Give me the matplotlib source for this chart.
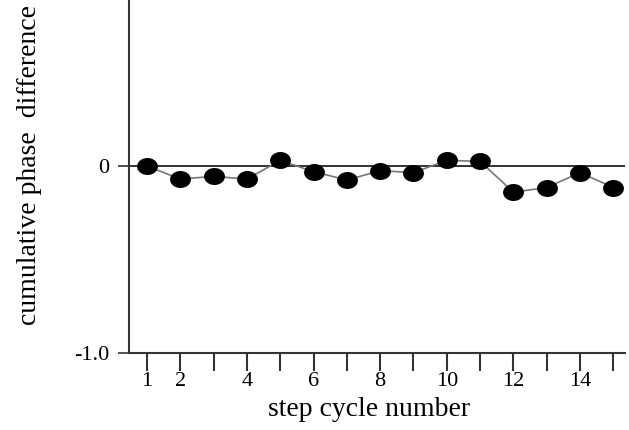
import matplotlib
matplotlib.use("Agg")
import matplotlib.pyplot as plt
from matplotlib.path import Path
import numpy as np

steps = list(range(1, 16))
phase_diff = [0.0, -0.07, -0.055, -0.07, 0.03, -0.03, -0.075, -0.025, -0.035,
              0.03, 0.025, -0.14, -0.115, -0.035, -0.115]
xtick_pos = list(range(1, 16))
xtick_labels = ["1", "2", "", "4", "", "6", "", "8", "", "10", "", "12", "", "14", ""]
ytick_pos = [-1.0, 0.0]
ytick_labels = ["-1.0", "0"]

plt.rcParams['font.family'] = ['Liberation Serif', 'DejaVu Serif']

# elliptical marker (wider than tall)
t = np.linspace(0, 2 * np.pi, 60)
ellipse = Path(np.column_stack([np.cos(t), 0.8 * np.sin(t)]), closed=True)

fig = plt.figure(figsize=(6.29, 4.30), dpi=100)
ax = fig.add_axes([129/629, 1 - 353/430, (625 - 129)/629, 353/430])

ax.axhline(0, color='#222222', lw=1.3, zorder=1)
ax.plot(steps, phase_diff, color='#777777', lw=1.2, zorder=2)
ax.plot(steps, phase_diff, ls='none', marker=ellipse, ms=14, color='black', zorder=3)

ax.set_xlim(0.46, 15.35)
ax.set_ylim(-1.0, 0.888)

ax.set_xticks(xtick_pos)
ax.set_xticklabels(xtick_labels, fontsize=16)
ax.set_yticks(ytick_pos)
ax.set_yticklabels(ytick_labels, fontsize=16)
ax.tick_params(axis='x', direction='out', length=13, width=1.5, color='#333333', pad=1)
ax.tick_params(axis='y', direction='out', length=8, width=1.2, color='#333333', pad=6)

for s in ['top', 'right']:
    ax.spines[s].set_visible(False)
for s in ['left', 'bottom']:
    ax.spines[s].set_linewidth(1.5)
    ax.spines[s].set_color('#333333')

ax.set_xlabel("step cycle number", fontsize=20)
ax.xaxis.set_label_coords((369 - 129) / 496, -(410 - 353) / 353)
ax.xaxis.label.set_va('center')
fig.text(30/629, 1 - 165/430, "cumulative phase  difference", rotation=90,
         fontsize=20, ha='center', va='center')

fig.savefig("out.png", dpi=100)
